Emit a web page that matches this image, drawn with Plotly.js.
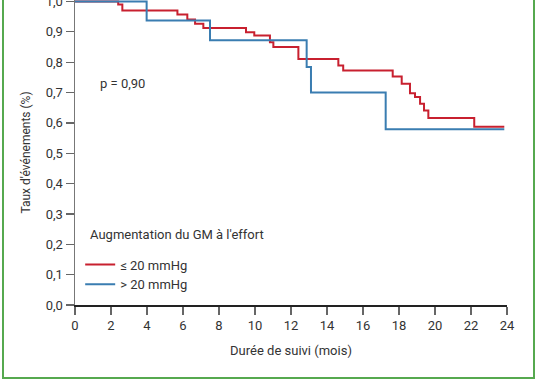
<!DOCTYPE html>
<html>
<head>
<meta charset="utf-8">
<script src="https://cdn.plot.ly/plotly-3.0.1.min.js"></script>
<style>
  html, body { margin: 0; padding: 0; background: #fff; overflow: hidden; }
  #wrap { position: relative; width: 538px; height: 384px; }
  #chart { position: absolute; left: 0; top: 0; width: 538px; height: 384px; }
  #frame { position: absolute; left: 2px; top: -10px; width: 533px; height: 389px;
           box-sizing: border-box; border: 2px solid #56a94f; pointer-events: none; }
</style>
</head>
<body>
<div id="wrap">
  <div id="chart"></div>
  <div id="frame"></div>
</div>
<script>
// Kaplan-Meier style curves (time in months, proportion without event)
const redTimes  = [0, 2.4, 2.63, 5.69, 6.24, 6.67, 7.13, 9.5, 9.96, 10.83, 11.02, 12.41, 14.63, 14.9, 17.65, 18.15, 18.61, 18.89, 19.17, 19.39, 19.63, 22.18, 23.85];
const redValues = [1.0, 0.99, 0.97, 0.957, 0.941, 0.927, 0.913, 0.899, 0.888, 0.866, 0.85, 0.811, 0.789, 0.773, 0.753, 0.729, 0.698, 0.685, 0.663, 0.641, 0.616, 0.587, 0.587];
const blueTimes  = [0, 3.98, 7.5, 12.87, 13.11, 17.26, 23.85];
const blueValues = [1.0, 0.9375, 0.872, 0.784, 0.70, 0.579, 0.579];

const seriesNames = ["\u2264 20 mmHg", "> 20 mmHg"];
const legendTitle = "Augmentation du GM \u00e0 l'effort";
const xTickVals = [0, 2, 4, 6, 8, 10, 12, 14, 16, 18, 20, 22, 24];
const yTickVals = [0, 0.1, 0.2, 0.3, 0.4, 0.5, 0.6, 0.7, 0.8, 0.9, 1.0];
const xTitle = "Dur\u00e9e de suivi (mois)";
const yTitle = "Taux d'\u00e9v\u00e9nements (%)";
const pText = "p = 0,90";

const FONT = "Roboto, 'DejaVu Sans', sans-serif";
const TXT = "#333333";

const traces = [
  { x: redTimes, y: redValues, name: seriesNames[0], type: "scatter", mode: "lines",
    line: { shape: "hv", color: "#c8202f", width: 2 } },
  { x: blueTimes, y: blueValues, name: seriesNames[1], type: "scatter", mode: "lines",
    line: { shape: "hv", color: "#3a7db1", width: 2 } }
];

const layout = {
  width: 538, height: 384,
  margin: { l: 75, r: 31, t: 0, b: 79, pad: 0 },
  paper_bgcolor: "#ffffff", plot_bgcolor: "#ffffff",
  separators: ", ",
  font: { family: FONT, size: 12, color: TXT },
  showlegend: true,
  legend: {
    x: 0.012, y: 0.182, xanchor: "left", yanchor: "top",
    bgcolor: "rgba(0,0,0,0)",
    font: { family: FONT, size: 13, color: TXT },
    itemwidth: 30,
    tracegroupgap: 0
  },
  xaxis: {
    range: [0, 24], tickvals: xTickVals, ticktext: xTickVals.map(String),
    showgrid: false, zeroline: false,
    showline: true, linecolor: "#222222", linewidth: 1.5,
    ticks: "outside", ticklen: 8, tickcolor: "#666666", tickwidth: 1.2,
    tickfont: { family: FONT, size: 13, color: TXT },
    title: { text: xTitle, font: { family: FONT, size: 13, color: TXT }, standoff: 14 }
  },
  yaxis: {
    range: [0, 1.005], tickvals: yTickVals, tickformat: ".1f",
    ticklabeloverflow: "allow",
    showgrid: false, zeroline: false,
    showline: true, linecolor: "#777777", linewidth: 1.5,
    ticks: "outside", ticklen: 8, tickcolor: "#666666", tickwidth: 1.2,
    tickfont: { family: FONT, size: 13, color: TXT },
    title: { text: yTitle, font: { family: FONT, size: 12, color: TXT }, standoff: 12 }
  },
  annotations: [
    { x: 1.28, y: 0.73, xref: "x", yref: "y", text: pText, showarrow: false,
      xanchor: "left", yanchor: "middle", font: { family: FONT, size: 13, color: TXT } },
    { x: 0.72, y: 0.231, xref: "x", yref: "y", text: legendTitle, showarrow: false,
      xanchor: "left", yanchor: "middle", font: { family: FONT, size: 13, color: TXT } }
  ]
};

Plotly.newPlot("chart", traces, layout, { staticPlot: true, displayModeBar: false });
</script>
</body>
</html>
